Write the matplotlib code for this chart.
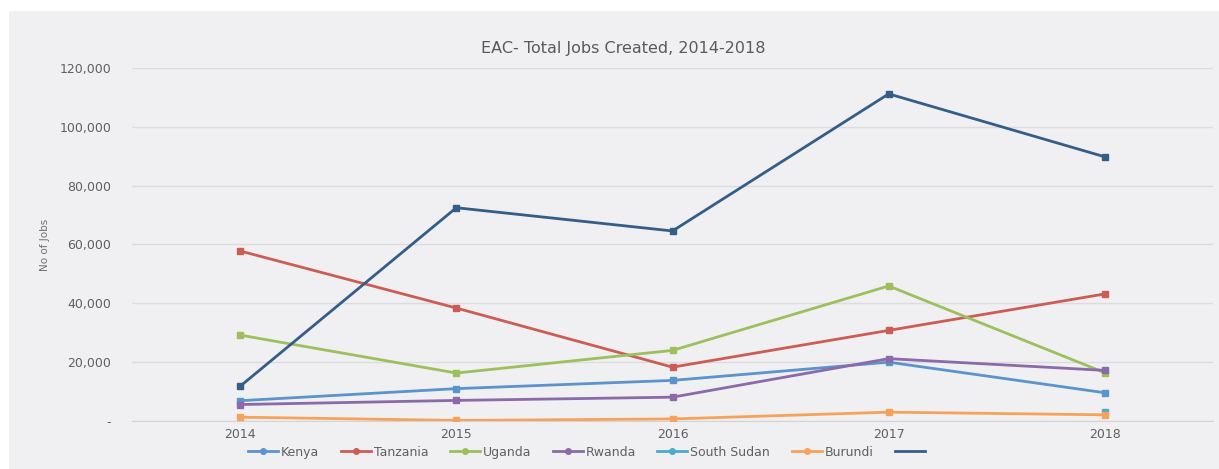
import numpy as np
import matplotlib.pyplot as plt
from matplotlib.lines import Line2D
from matplotlib.patches import Rectangle
from matplotlib.ticker import FuncFormatter

# data
years = ['2014', '2015', '2016', '2017', '2018']
kenya = [6900, 11000, 13800, 20000, 9600]
tanzania = [57800, 38400, 18300, 30800, 43200]
uganda = [29200, 16300, 24000, 45900, 16400]
rwanda = [5600, 7000, 8100, 21200, 17200]
south_sudan = [np.nan, np.nan, np.nan, np.nan, 2900]
burundi = [1300, 200, 700, 3000, 2100]
total = [11800, 72500, 64600, 111200, 89800]

series = [
    ('Kenya', kenya, '#5b93cc'),
    ('Tanzania', tanzania, '#cb5d55'),
    ('Uganda', uganda, '#9dbf5c'),
    ('Rwanda', rwanda, '#8a6aa8'),
    ('South Sudan', south_sudan, '#4aacc8'),
    ('Burundi', burundi, '#f7a25a'),
    ('', total, '#345d88'),
]

plt.rcParams['font.family'] = ['DejaVu Sans']
fig = plt.figure(figsize=(12.19, 4.69), dpi=100)
fig.patch.set_facecolor('white')
fig.patches.append(Rectangle((9 / 1219, 0), 1 - 9 / 1219, 1 - 11 / 469,
                             transform=fig.transFigure, facecolor='#f0f0f2',
                             edgecolor='none', zorder=-10))

ax = fig.add_axes([132 / 1219, 1 - 421 / 469, 1081 / 1219, 353 / 469])
ax.set_facecolor('none')
ax.set_zorder(2)

x = np.arange(len(years))
handles = []
for name, vals, col in series:
    ax.plot(x, vals, color=col, lw=2, marker='s', ms=5, zorder=3)
    if name:
        handles.append(Line2D([], [], color=col, lw=2, marker='o', ms=4, label=name))
    else:
        handles.append(Line2D([], [], color=col, lw=2, label=' '))

ax.set_xlim(-0.5, len(years) - 0.5)
ax.set_ylim(0, 120000)
ax.set_yticks(np.arange(0, 120001, 20000))
ax.yaxis.set_major_formatter(FuncFormatter(lambda v, p: '-' if v == 0 else f'{int(v):,}'))
ax.set_xticks(x)
ax.set_xticklabels(years)
ax.grid(axis='y', color='#dcdcde', lw=1)
ax.set_axisbelow(True)
for s in ['top', 'right', 'left']:
    ax.spines[s].set_visible(False)
ax.spines['bottom'].set_color('#d4d4d6')
ax.tick_params(length=0, colors='#606060', labelsize=9)
ax.tick_params(axis='y', pad=15)
ax.tick_params(axis='x', pad=5)

fig.text(45 / 1219, 1 - 245 / 469, 'No of Jobs', rotation=90, ha='center', va='center',
         fontsize=7.5, color='#707070', family=['Liberation Sans Narrow', 'DejaVu Sans'])
fig.text(623 / 1219, 1 - 48 / 469, 'EAC- Total Jobs Created, 2014-2018', ha='center',
         va='center', fontsize=11.5, color='#5a5a5a')

fig.legend(handles=handles, loc='center', bbox_to_anchor=(590 / 1219, 1 - 452 / 469),
           ncol=7, frameon=False, fontsize=9, handlelength=2.4, handletextpad=0.25,
           columnspacing=1.7, labelcolor='#606060')

fig.savefig('out.png', dpi=100)
